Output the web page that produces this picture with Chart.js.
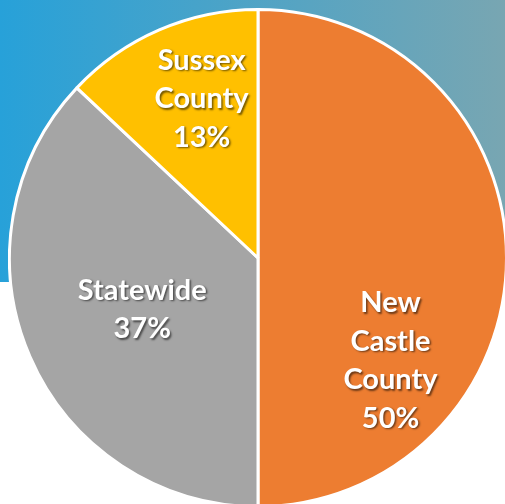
<!DOCTYPE html>
<html>
<head>
<meta charset="utf-8">
<script src="https://cdn.jsdelivr.net/npm/chart.js@4"></script>
<style>
    html, body { margin: 0; padding: 0; width: 505px; height: 504px; overflow: hidden; background: #fff; position: relative; }
    .band { position: absolute; left: 0; top: 0; width: 505px; height: 282px; background: linear-gradient(to right, #27a1d9, #78a6b2); }
    .wrap { position: absolute; left: 8px; top: 8px; width: 500px; height: 500px; }
</style>
</head>
<body>
<div class="band"></div>
<div class="wrap"><canvas id="pieChart"></canvas></div>
<script>
const ctx = document.getElementById('pieChart').getContext('2d');

// Chart data
const regions = ['New Castle County', 'Statewide', 'Sussex County'];
const labelLines = [['New', 'Castle', 'County'], ['Statewide'], ['Sussex', 'County']];
const shares = [50, 37, 13];
const sliceColors = ['#ed7d31', '#a5a5a5', '#ffc000'];

// where each label sits: angle from 12 o'clock (clockwise, degrees) and fraction of radius
const labelSpots = [
    { angle: 127.8, frac: 0.675 },
    { angle: 246, frac: 0.51 },
    { angle: 340.5, frac: 0.68 }
];

const sliceLabels = {
    id: 'sliceLabels',
    afterDatasetsDraw(chart) {
        const c = chart.ctx;
        const meta = chart.getDatasetMeta(0);
        meta.data.forEach((arc, i) => {
            const spot = labelSpots[i];
            const a = (spot.angle - 90) * Math.PI / 180;
            const r = arc.outerRadius * spot.frac;
            const cx = arc.x + Math.cos(a) * r;
            const cy = arc.y + Math.sin(a) * r;
            const lines = labelLines[i].concat([shares[i] + '%']);
            const lineH = 38.5;
            const top = cy - (lines.length - 1) * lineH / 2;
            c.save();
            c.font = 'bold 29px Lato, "Open Sans", sans-serif';
            c.textAlign = 'center';
            c.textBaseline = 'middle';
            c.fillStyle = '#ffffff';
            c.shadowColor = 'rgba(0,0,0,0.55)';
            c.shadowOffsetX = 1.5;
            c.shadowOffsetY = 1.5;
            c.shadowBlur = 2;
            lines.forEach((txt, k) => c.fillText(txt, cx, top + k * lineH));
            c.restore();
        });
    }
};

const myChart = new Chart(ctx, {
    type: 'pie',
    data: {
        labels: regions,
        datasets: [{
            data: shares,
            backgroundColor: sliceColors,
            borderColor: '#ffffff',
            borderWidth: 3
        }]
    },
    options: {
        responsive: true,
        maintainAspectRatio: false,
        animation: false,
        plugins: {
            legend: { display: false },
            tooltip: { enabled: false }
        }
    },
    plugins: [sliceLabels]
});
</script>
</body>
</html>
